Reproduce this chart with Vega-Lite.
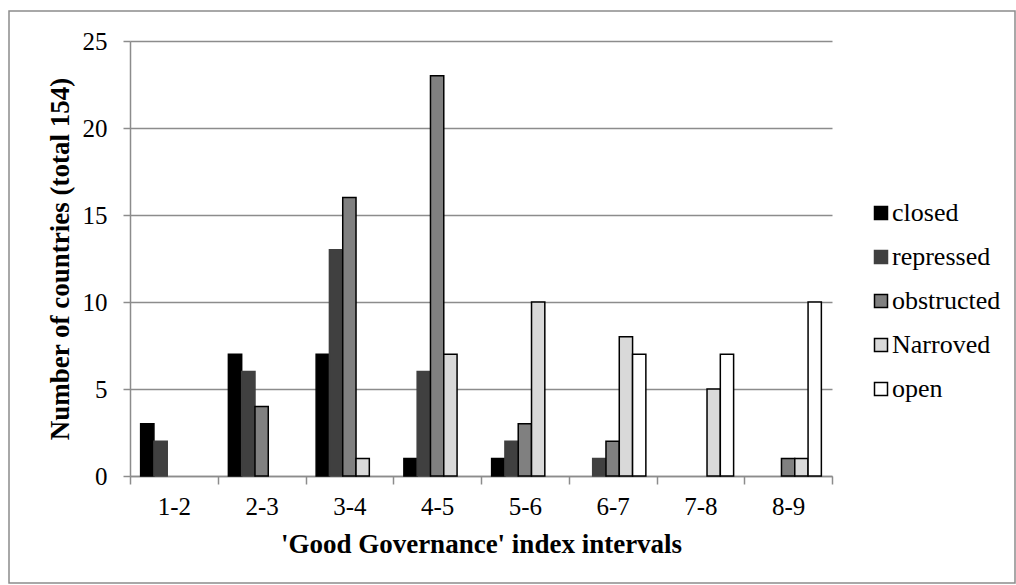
{
  "$schema": "https://vega.github.io/schema/vega-lite/v6.json",
  "width": 702,
  "height": 435,
  "autosize": {"type": "none"},
  "padding": {"left": 130, "top": 41, "right": 184, "bottom": 109},
  "background": "white",
  "config": {
    "view": {"stroke": null},
    "font": "Liberation Serif",
    "axis": {"labelFont": "Liberation Serif", "titleFont": "Liberation Serif"},
    "legend": {"labelFont": "Liberation Serif", "titleFont": "Liberation Serif"}
  },
  "resolve": {"scale": {"x": "independent", "y": "independent"}},
  "layer": [
    {
      "data": {"values": [{"f": 1}]},
      "mark": {"type": "rect", "fill": null, "stroke": "#8c8c8c", "strokeWidth": 1.5, "clip": false},
      "encoding": {
        "x": {"datum": 0, "type": "quantitative", "scale": {"domain": [0, 1], "range": [-121, 885]}, "axis": null},
        "x2": {"datum": 1},
        "y": {"datum": 0, "type": "quantitative", "scale": {"domain": [0, 1], "range": [542, -30]}, "axis": null},
        "y2": {"datum": 1}
      }
    },
    {
      "data": {
        "values": [
          {"interval": "1-2", "status": "closed", "count": 3},
          {"interval": "1-2", "status": "repressed", "count": 2},
          {"interval": "2-3", "status": "closed", "count": 7},
          {"interval": "2-3", "status": "repressed", "count": 6},
          {"interval": "2-3", "status": "obstructed", "count": 4},
          {"interval": "3-4", "status": "closed", "count": 7},
          {"interval": "3-4", "status": "repressed", "count": 13},
          {"interval": "3-4", "status": "obstructed", "count": 16},
          {"interval": "3-4", "status": "Narroved", "count": 1},
          {"interval": "4-5", "status": "closed", "count": 1},
          {"interval": "4-5", "status": "repressed", "count": 6},
          {"interval": "4-5", "status": "obstructed", "count": 23},
          {"interval": "4-5", "status": "Narroved", "count": 7},
          {"interval": "5-6", "status": "closed", "count": 1},
          {"interval": "5-6", "status": "repressed", "count": 2},
          {"interval": "5-6", "status": "obstructed", "count": 3},
          {"interval": "5-6", "status": "Narroved", "count": 10},
          {"interval": "6-7", "status": "repressed", "count": 1},
          {"interval": "6-7", "status": "obstructed", "count": 2},
          {"interval": "6-7", "status": "Narroved", "count": 8},
          {"interval": "6-7", "status": "open", "count": 7},
          {"interval": "7-8", "status": "Narroved", "count": 5},
          {"interval": "7-8", "status": "open", "count": 7},
          {"interval": "8-9", "status": "obstructed", "count": 1},
          {"interval": "8-9", "status": "Narroved", "count": 1},
          {"interval": "8-9", "status": "open", "count": 10}
        ]
      },
      "mark": {"type": "bar", "strokeWidth": 1.5},
      "encoding": {
        "x": {
          "field": "interval",
          "type": "nominal",
          "sort": ["1-2", "2-3", "3-4", "4-5", "5-6", "6-7", "7-8", "8-9"],
          "scale": {"domain": ["1-2", "2-3", "3-4", "4-5", "5-6", "6-7", "7-8", "8-9"], "paddingInner": 0, "paddingOuter": 0},
          "axis": {
            "title": "'Good Governance' index intervals",
            "titleFont": "Liberation Serif",
            "titleFontSize": 27,
            "titleFontWeight": "bold",
            "titleColor": "black",
            "titlePadding": 12,
            "labelFont": "Liberation Serif",
            "labelAngle": 0,
            "labelFontSize": 25,
            "labelColor": "black",
            "labelPadding": 10,
            "tickBand": "extent",
            "tickSize": 8,
            "tickColor": "#8c8c8c",
            "tickWidth": 1.5,
            "domainColor": "#8c8c8c",
            "domainWidth": 1.5,
            "grid": false
          }
        },
        "xOffset": {
          "field": "status",
          "type": "nominal",
          "scale": {"domain": ["closed", "repressed", "obstructed", "Narroved", "open"], "paddingInner": 0, "paddingOuter": 0.8}
        },
        "y": {
          "field": "count",
          "type": "quantitative",
          "scale": {"domain": [0, 25]},
          "axis": {
            "title": "Number of countries (total 154)",
            "titleFont": "Liberation Serif",
            "titleFontSize": 27,
            "titleFontWeight": "bold",
            "titleColor": "black",
            "titlePadding": 8,
            "labelFont": "Liberation Serif",
            "values": [0, 5, 10, 15, 20, 25],
            "labelFontSize": 25,
            "labelColor": "black",
            "labelPadding": 16,
            "tickSize": 7,
            "tickColor": "#8c8c8c",
            "tickWidth": 1.5,
            "domainColor": "#8c8c8c",
            "domainWidth": 1.5,
            "grid": true,
            "gridColor": "#8c8c8c",
            "gridWidth": 1.5
          }
        },
        "fill": {
          "field": "status",
          "type": "nominal",
          "scale": {"domain": ["closed", "repressed", "obstructed", "Narroved", "open"], "range": ["#000000", "#404040", "#808080", "#d9d9d9", "#ffffff"]},
          "legend": {
            "title": null,
            "orient": "none",
            "legendX": 738,
            "legendY": 159,
            "symbolType": "square",
            "symbolSize": 169,
            "symbolStrokeWidth": 1.5,
            "labelFont": "Liberation Serif",
            "labelFontSize": 26,
            "labelColor": "black",
            "labelOffset": -2,
            "rowPadding": 18
          }
        },
        "stroke": {
          "field": "status",
          "type": "nominal",
          "scale": {"domain": ["closed", "repressed", "obstructed", "Narroved", "open"], "range": ["#000000", "#404040", "#000000", "#000000", "#000000"]},
          "legend": {
            "title": null,
            "orient": "none",
            "legendX": 738,
            "legendY": 159,
            "symbolType": "square",
            "symbolSize": 169,
            "symbolStrokeWidth": 1.5,
            "labelFont": "Liberation Serif",
            "labelFontSize": 26,
            "labelColor": "black",
            "labelOffset": -2,
            "rowPadding": 18
          }
        }
      }
    }
  ]
}
